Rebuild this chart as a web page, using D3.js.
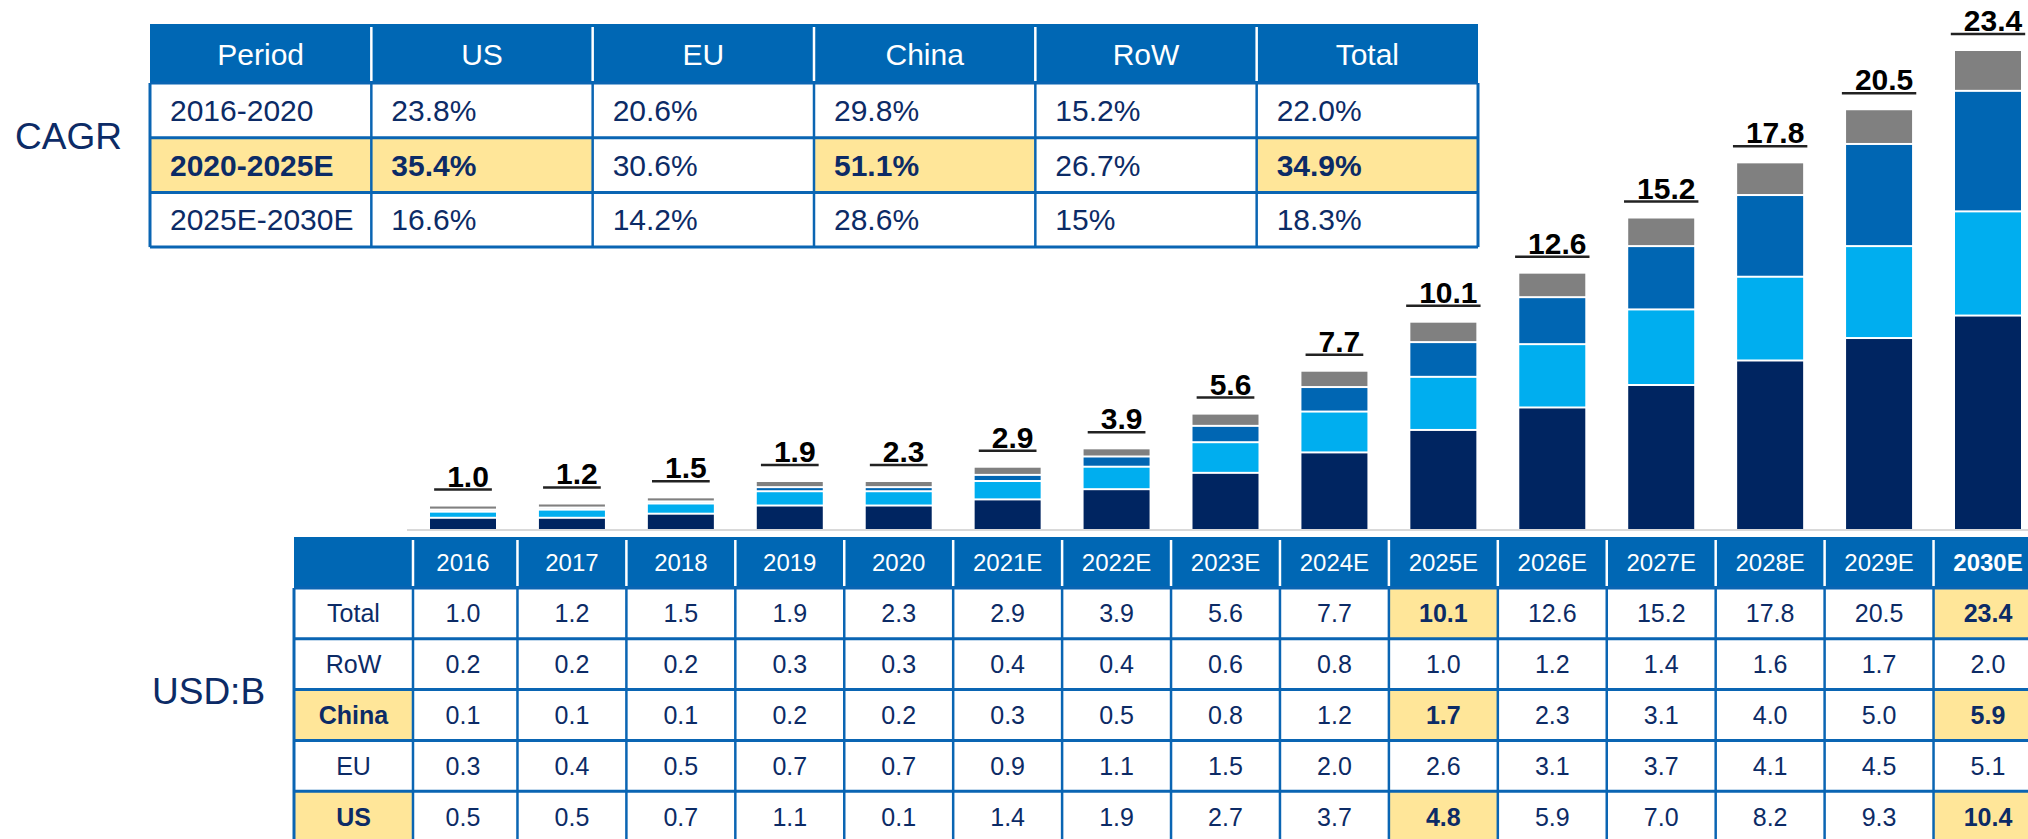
<!DOCTYPE html>
<html>
<head>
<meta charset="utf-8">
<script src="https://cdn.jsdelivr.net/npm/d3@7"></script>
<style>
body { margin: 0; background: #fff; }
svg { display: block; font-family: "Liberation Sans", Arial, sans-serif; }
</style>
</head>
<body>
<div id="chart"></div>
<script>
// ---- data ----
var years = ["2016", "2017", "2018", "2019", "2020", "2021E", "2022E", "2023E", "2024E",
             "2025E", "2026E", "2027E", "2028E", "2029E", "2030E"];
var totalVals = [1.0, 1.2, 1.5, 1.9, 2.3, 2.9, 3.9, 5.6, 7.7, 10.1, 12.6, 15.2, 17.8, 20.5, 23.4];
var rowVals   = [0.2, 0.2, 0.2, 0.3, 0.3, 0.4, 0.4, 0.6, 0.8, 1.0, 1.2, 1.4, 1.6, 1.7, 2.0];
var chinaVals = [0.1, 0.1, 0.1, 0.2, 0.2, 0.3, 0.5, 0.8, 1.2, 1.7, 2.3, 3.1, 4.0, 5.0, 5.9];
var euVals    = [0.3, 0.4, 0.5, 0.7, 0.7, 0.9, 1.1, 1.5, 2.0, 2.6, 3.1, 3.7, 4.1, 4.5, 5.1];
var usVals    = [0.5, 0.5, 0.7, 1.1, 1.1, 1.4, 1.9, 2.7, 3.7, 4.8, 5.9, 7.0, 8.2, 9.3, 10.4];
// the source table prints 0.1 for US 2020 while its bar is drawn ~1.1
var usPrinted = usVals.map(function(v, i) { return i === 4 ? "0.1" : v.toFixed(1); });

var cagrHeads   = ["Period", "US", "EU", "China", "RoW", "Total"];
var cagrPeriods = ["2016-2020", "2020-2025E", "2025E-2030E"];
var cagrUS      = ["23.8%", "35.4%", "16.6%"];
var cagrEU      = ["20.6%", "30.6%", "14.2%"];
var cagrChina   = ["29.8%", "51.1%", "28.6%"];
var cagrRoW     = ["15.2%", "26.7%", "15%"];
var cagrTotal   = ["22.0%", "34.9%", "18.3%"];

// ---- styles ----
var NAVY_TEXT = "#0c2b66", HEAD_BLUE = "#0067b4", LINE_BLUE = "#0a65b3", GOLD = "#ffe699";
var keys = ["us", "eu", "china", "row"];
var color = d3.scaleOrdinal().domain(keys).range(["#002561", "#00aeef", "#0066b3", "#808080"]);

var W = 2028, H = 839;
var svg = d3.select("#chart").append("svg").attr("width", W).attr("height", H);

// ---- bars ----
var x = d3.scalePoint().domain(years).range([463, 1988]);
var y = d3.scaleLinear().domain([0, 23.4]).range([529, 51]);
var barW = 66;

var rows = years.map(function(yr, i) {
    return {year: yr, us: usVals[i], eu: euVals[i], china: chinaVals[i], row: rowVals[i], total: totalVals[i]};
});
var series = d3.stack().keys(keys)(rows);

svg.append("line")
    .attr("x1", 407).attr("x2", W)
    .attr("y1", y(0) + 1).attr("y2", y(0) + 1)
    .style("stroke", "#d9d9d9").style("stroke-width", 2);

svg.append("g").selectAll("g")
    .data(series)
    .join("g")
    .attr("fill", function(s) { return color(s.key); })
    .selectAll("rect")
    .data(function(s) { return s; })
    .join("rect")
    .attr("x", function(d) { return x(d.data.year) - barW / 2; })
    .attr("width", barW)
    .attr("y", function(d) { return y(d[1]); })
    .attr("height", function(d) {
        var gap = d[0] > 0 ? 2 : 0;
        return Math.max(0, y(d[0]) - y(d[1]) - gap);
    });

// total labels, underlined with a leading space like the source
var lab = svg.append("g").selectAll("g").data(rows).join("g");
lab.each(function(d) {
    var g = d3.select(this);
    var top = y(d.us + d.eu + d.china + d.row);
    var t = g.append("text")
        .attr("y", top - 20)
        .style("font-size", "30px")
        .style("font-weight", "bold")
        .style("fill", "#000")
        .text(d.total.toFixed(1));
    var w = t.node().getComputedTextLength();
    var lead = 13, trail = 3;
    var left = x(d.year) - (w + lead + trail) / 2;
    t.attr("x", left + lead);
    g.append("line")
        .attr("x1", left).attr("x2", left + w + lead + trail)
        .attr("y1", top - 17).attr("y2", top - 17)
        .style("stroke", "#222").style("stroke-width", 2.5);
});

// ---- side captions ----
svg.append("text").attr("x", 15).attr("y", 149)
    .style("font-size", "37px").style("fill", NAVY_TEXT).text("CAGR");
svg.append("text").attr("x", 152).attr("y", 704)
    .style("font-size", "37px").style("fill", NAVY_TEXT).text("USD:B");

// ---- CAGR table ----
var cx = d3.scaleBand().domain(cagrHeads).range([150, 1478]);
var cHeadTop = 24, cHeadBot = 83, cRowH = 54.7;
var cagrCols = [cagrPeriods, cagrUS, cagrEU, cagrChina, cagrRoW, cagrTotal];
var cagrHot = {"Period": true, "US": true, "China": true, "Total": true};

var ct = svg.append("g");
ct.append("rect").attr("x", 150).attr("y", cHeadTop)
    .attr("width", 1478 - 150).attr("height", cHeadBot - cHeadTop).attr("fill", HEAD_BLUE);
ct.selectAll(".hd").data(cagrHeads).join("text")
    .attr("x", function(h) { return cx(h) + cx.bandwidth() / 2; })
    .attr("y", (cHeadTop + cHeadBot) / 2 + 11)
    .attr("text-anchor", "middle")
    .style("font-size", "30px").style("fill", "#fff")
    .text(function(h) { return h; });

var cagrCells = [];
cagrPeriods.forEach(function(p, r) {
    cagrHeads.forEach(function(h, c) {
        cagrCells.push({r: r, head: h, text: cagrCols[c][r], hot: r === 1 && cagrHot[h]});
    });
});
ct.selectAll(".cell").data(cagrCells).join("rect")
    .attr("x", function(d) { return cx(d.head); })
    .attr("y", function(d) { return cHeadBot + d.r * cRowH; })
    .attr("width", cx.bandwidth()).attr("height", cRowH)
    .attr("fill", function(d) { return d.hot ? GOLD : "#fff"; });
ct.selectAll(".txt").data(cagrCells).join("text")
    .attr("x", function(d) { return cx(d.head) + 20; })
    .attr("y", function(d) { return cHeadBot + d.r * cRowH + cRowH / 2 + 10.5; })
    .style("font-size", "30px")
    .style("font-weight", function(d) { return d.hot ? "bold" : "normal"; })
    .style("fill", NAVY_TEXT)
    .text(function(d) { return d.text; });

// grid
d3.range(4).forEach(function(r) {
    ct.append("line").attr("x1", 150).attr("x2", 1478)
        .attr("y1", cHeadBot + r * cRowH).attr("y2", cHeadBot + r * cRowH)
        .style("stroke", LINE_BLUE).style("stroke-width", 3);
});
cagrHeads.concat(["end"]).forEach(function(h, c) {
    var xx = c < cagrHeads.length ? cx(h) : 1478;
    ct.append("line").attr("x1", xx).attr("x2", xx)
        .attr("y1", cHeadBot).attr("y2", cHeadBot + 3 * cRowH)
        .style("stroke", LINE_BLUE).style("stroke-width", c === 0 || c === cagrHeads.length ? 3 : 2.5);
    if (c > 0 && c < cagrHeads.length) {
        ct.append("line").attr("x1", xx).attr("x2", xx)
            .attr("y1", cHeadTop + 3).attr("y2", cHeadBot - 2)
            .style("stroke", "#fff").style("stroke-width", 2.5);
    }
});

// ---- bottom data table ----
var tLeft = 294, tLabR = 413, tHeadTop = 537, tHeadBot = 588, tRowH = 50.8;
function colLeft(i) { return i === 0 ? tLabR : x(years[i]) - x.step() / 2; }
function colRight(i) { return x(years[i]) + x.step() / 2; }

var tableRows = [
    {name: "Total", vals: totalVals.map(function(v) { return v.toFixed(1); }), hotLabel: false, hotCols: ["2025E", "2030E"]},
    {name: "RoW", vals: rowVals.map(function(v) { return v.toFixed(1); }), hotLabel: false, hotCols: []},
    {name: "China", vals: chinaVals.map(function(v) { return v.toFixed(1); }), hotLabel: true, hotCols: ["2025E", "2030E"]},
    {name: "EU", vals: euVals.map(function(v) { return v.toFixed(1); }), hotLabel: false, hotCols: []},
    {name: "US", vals: usPrinted, hotLabel: true, hotCols: ["2025E", "2030E"]}
];

var bt = svg.append("g");
bt.append("rect").attr("x", tLeft).attr("y", tHeadTop)
    .attr("width", W - tLeft).attr("height", tHeadBot - tHeadTop).attr("fill", HEAD_BLUE);
bt.selectAll(".yh").data(years).join("text")
    .attr("x", function(yr) { return x(yr); })
    .attr("y", (tHeadTop + tHeadBot) / 2 + 8.5)
    .attr("text-anchor", "middle")
    .style("font-size", "24px").style("fill", "#fff")
    .style("font-weight", function(yr) { return yr === "2030E" ? "bold" : "normal"; })
    .text(function(yr) { return yr; });

var cells = [];
tableRows.forEach(function(tr, r) {
    cells.push({r: r, x0: tLeft, x1: tLabR, cx: (tLeft + tLabR) / 2, text: tr.name, hot: tr.hotLabel});
    years.forEach(function(yr, i) {
        cells.push({r: r, x0: colLeft(i), x1: colRight(i), cx: x(yr), text: tr.vals[i],
                    hot: tr.hotCols.indexOf(yr) >= 0});
    });
});
bt.selectAll(".cell").data(cells).join("rect")
    .attr("x", function(d) { return d.x0; })
    .attr("y", function(d) { return tHeadBot + d.r * tRowH; })
    .attr("width", function(d) { return d.x1 - d.x0; })
    .attr("height", tRowH)
    .attr("fill", function(d) { return d.hot ? GOLD : "#fff"; });
bt.selectAll(".txt").data(cells).join("text")
    .attr("x", function(d) { return d.cx; })
    .attr("y", function(d) { return tHeadBot + d.r * tRowH + tRowH / 2 + 9; })
    .attr("text-anchor", "middle")
    .style("font-size", "25px")
    .style("font-weight", function(d) { return d.hot ? "bold" : "normal"; })
    .style("fill", NAVY_TEXT)
    .text(function(d) { return d.text; });

d3.range(6).forEach(function(r) {
    bt.append("line").attr("x1", tLeft).attr("x2", W)
        .attr("y1", tHeadBot + r * tRowH).attr("y2", tHeadBot + r * tRowH)
        .style("stroke", LINE_BLUE).style("stroke-width", 3);
});
var vx = [tLeft, tLabR].concat(years.slice(1).map(function(yr, i) { return colLeft(i + 1); }));
vx.forEach(function(xx, k) {
    bt.append("line").attr("x1", xx).attr("x2", xx)
        .attr("y1", tHeadBot).attr("y2", H)
        .style("stroke", LINE_BLUE).style("stroke-width", k === 0 ? 3 : 2.5);
    if (k > 0) {
        bt.append("line").attr("x1", xx).attr("x2", xx)
            .attr("y1", tHeadTop + 3).attr("y2", tHeadBot - 2)
            .style("stroke", "#fff").style("stroke-width", 2.5);
    }
});
</script>
</body>
</html>
